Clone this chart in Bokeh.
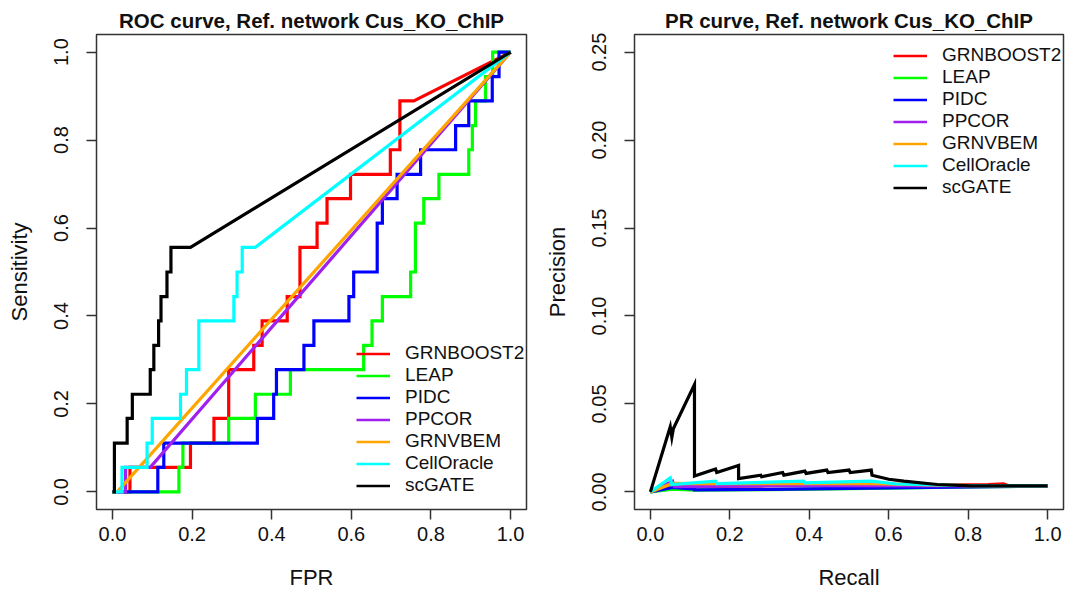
from bokeh.plotting import figure
from bokeh.models import Range1d, FixedTicker, PrintfTickFormatter, Legend, LegendItem
from bokeh.layouts import row
from bokeh.embed import file_html
from bokeh.resources import INLINE

methods = ["GRNBOOST2", "LEAP", "PIDC", "PPCOR", "GRNVBEM", "CellOracle", "scGATE"]
colors = ["#FF0000", "#00FF00", "#0000FF", "#A020F0", "#FFA500", "#00FFFF", "#000000"]

# ---------- ROC data (FPR, TPR) ----------
roc_grnboost2_fpr = [0, 0.044, 0.044, 0.196, 0.196, 0.255, 0.255, 0.292, 0.292, 0.355, 0.355, 0.376, 0.376, 0.439, 0.439, 0.471, 0.471, 0.514, 0.514, 0.539, 0.539, 0.598, 0.598, 0.698, 0.698, 0.722, 0.722, 0.757, 1.0]
roc_grnboost2_tpr = [0, 0, 0.056, 0.056, 0.111, 0.111, 0.167, 0.167, 0.278, 0.278, 0.333, 0.333, 0.389, 0.389, 0.444, 0.444, 0.556, 0.556, 0.611, 0.611, 0.667, 0.667, 0.722, 0.722, 0.778, 0.778, 0.889, 0.889, 1.0]

roc_leap_fpr = [0, 0.167, 0.167, 0.177, 0.177, 0.292, 0.292, 0.359, 0.359, 0.447, 0.447, 0.631, 0.631, 0.652, 0.652, 0.678, 0.678, 0.749, 0.749, 0.761, 0.761, 0.782, 0.782, 0.82, 0.82, 0.895, 0.895, 0.904, 0.904, 0.912, 0.912, 0.937, 0.937, 0.955, 0.955, 1.0]
roc_leap_tpr = [0, 0, 0.056, 0.056, 0.111, 0.111, 0.167, 0.167, 0.222, 0.222, 0.278, 0.278, 0.333, 0.333, 0.389, 0.389, 0.444, 0.444, 0.5, 0.5, 0.611, 0.611, 0.667, 0.667, 0.722, 0.722, 0.778, 0.778, 0.833, 0.833, 0.889, 0.889, 0.944, 0.944, 1.0, 1.0]

roc_pidc_fpr = [0, 0.114, 0.114, 0.129, 0.129, 0.364, 0.364, 0.405, 0.405, 0.412, 0.412, 0.481, 0.481, 0.506, 0.506, 0.594, 0.594, 0.606, 0.606, 0.665, 0.665, 0.678, 0.678, 0.715, 0.715, 0.774, 0.774, 0.862, 0.862, 0.895, 0.895, 0.954, 0.954, 0.971, 0.971, 1.0]
roc_pidc_tpr = [0, 0, 0.056, 0.056, 0.111, 0.111, 0.167, 0.167, 0.222, 0.222, 0.278, 0.278, 0.333, 0.333, 0.389, 0.389, 0.444, 0.444, 0.5, 0.5, 0.611, 0.611, 0.667, 0.667, 0.722, 0.722, 0.778, 0.778, 0.833, 0.833, 0.889, 0.889, 0.944, 0.944, 1.0, 1.0]

roc_ppcor_fpr = [0, 0.033, 0.033, 0.095, 1.0]
roc_ppcor_tpr = [0, 0, 0.056, 0.056, 1.0]

roc_grnvbem_fpr = [0, 0.012, 1.0]
roc_grnvbem_tpr = [0, 0, 1.0]

roc_celloracle_fpr = [0, 0.024, 0.024, 0.087, 0.087, 0.1, 0.1, 0.171, 0.171, 0.186, 0.186, 0.217, 0.217, 0.305, 0.305, 0.313, 0.313, 0.326, 0.326, 0.359, 1.0]
roc_celloracle_tpr = [0, 0, 0.056, 0.056, 0.111, 0.111, 0.167, 0.167, 0.222, 0.222, 0.278, 0.278, 0.389, 0.389, 0.444, 0.444, 0.5, 0.5, 0.556, 0.556, 1.0]

roc_scgate_fpr = [0, 0.005, 0.005, 0.037, 0.037, 0.05, 0.05, 0.095, 0.095, 0.104, 0.104, 0.116, 0.116, 0.122, 0.122, 0.137, 0.137, 0.147, 0.147, 0.196, 1.0]
roc_scgate_tpr = [0, 0, 0.111, 0.111, 0.167, 0.167, 0.222, 0.222, 0.278, 0.278, 0.333, 0.333, 0.389, 0.389, 0.444, 0.444, 0.5, 0.5, 0.556, 0.556, 1.0]

# ---------- PR data (Recall, Precision) ----------
pr_grnboost2_rec = [0, 0.056, 0.111, 0.3, 0.5, 0.7, 0.85, 0.889, 0.9, 1.0]
pr_grnboost2_prec = [0, 0.0045, 0.003, 0.0035, 0.004, 0.0038, 0.0042, 0.0046, 0.0036, 0.0034]

pr_leap_rec = [0, 0.056, 0.111, 0.3, 0.6, 0.8, 1.0]
pr_leap_prec = [0, 0.0015, 0.001, 0.0013, 0.0022, 0.0028, 0.0034]

pr_pidc_rec = [0, 0.056, 0.111, 0.111, 0.3, 0.5, 0.7, 1.0]
pr_pidc_prec = [0, 0.0025, 0.0015, 0.0012, 0.0014, 0.002, 0.0026, 0.0034]

pr_ppcor_rec = [0, 0.056, 0.06, 0.3, 1.0]
pr_ppcor_prec = [0, 0.006, 0.003, 0.0035, 0.0034]

pr_grnvbem_rec = [0, 0.056, 0.167, 0.389, 0.556, 0.8, 1.0]
pr_grnvbem_prec = [0, 0.0048, 0.0047, 0.0047, 0.0047, 0.0036, 0.0034]

pr_celloracle_rec = [0, 0.05, 0.054, 0.164, 0.167, 0.386, 0.389, 0.556, 0.62, 0.8, 1.0]
pr_celloracle_prec = [0, 0.008, 0.0042, 0.0061, 0.0047, 0.0061, 0.0051, 0.0061, 0.0045, 0.0036, 0.0034]

pr_scgate_rec = [0, 0.05, 0.054, 0.058, 0.111, 0.111, 0.164, 0.167, 0.222, 0.222, 0.278, 0.28, 0.333, 0.336, 0.389, 0.392, 0.444, 0.447, 0.5, 0.503, 0.556, 0.558, 0.6, 0.638, 0.722, 0.806, 1.0]
pr_scgate_prec = [0, 0.037, 0.031, 0.036, 0.061, 0.009, 0.013, 0.011, 0.015, 0.0076, 0.0095, 0.0086, 0.011, 0.0095, 0.0118, 0.0105, 0.0124, 0.011, 0.0124, 0.011, 0.0124, 0.0095, 0.0072, 0.0061, 0.0042, 0.0034, 0.0034]

roc_x = [roc_grnboost2_fpr, roc_leap_fpr, roc_pidc_fpr, roc_ppcor_fpr, roc_grnvbem_fpr, roc_celloracle_fpr, roc_scgate_fpr]
roc_y = [roc_grnboost2_tpr, roc_leap_tpr, roc_pidc_tpr, roc_ppcor_tpr, roc_grnvbem_tpr, roc_celloracle_tpr, roc_scgate_tpr]
pr_x = [pr_grnboost2_rec, pr_leap_rec, pr_pidc_rec, pr_ppcor_rec, pr_grnvbem_rec, pr_celloracle_rec, pr_scgate_rec]
pr_y = [pr_grnboost2_prec, pr_leap_prec, pr_pidc_prec, pr_ppcor_prec, pr_grnvbem_prec, pr_celloracle_prec, pr_scgate_prec]

FONT = "Liberation Sans"


def make_panel(title, xlab, ylab, yr, yticks, yfmt, xs, ys, width, bl, br, leg_loc):
    p = figure(width=width, height=593, output_backend="svg", toolbar_location=None,
               x_range=Range1d(-0.04, 1.04), y_range=yr,
               min_border_left=bl, min_border_right=br, min_border_top=34, min_border_bottom=84)
    p.grid.visible = False
    p.outline_line_color = "#333333"
    p.outline_line_width = 1.5
    p.title.text = title
    p.title.align = "center"
    p.title.text_font = FONT
    p.title.text_font_style = "bold"
    p.title.text_font_size = "20.5px"
    p.title.text_color = "#111111"
    p.title.standoff = 6
    p.xaxis.axis_label = xlab
    p.yaxis.axis_label = ylab
    p.xaxis.ticker = FixedTicker(ticks=[0, 0.2, 0.4, 0.6, 0.8, 1.0])
    p.yaxis.ticker = FixedTicker(ticks=yticks)
    p.xaxis.formatter = PrintfTickFormatter(format="%.1f")
    p.yaxis.formatter = PrintfTickFormatter(format=yfmt)
    p.yaxis.major_label_orientation = "vertical"
    for ax in (p.xaxis[0], p.yaxis[0]):
        ax.axis_line_color = None
        ax.major_tick_in = 0
        ax.major_tick_out = 10
        ax.major_tick_line_color = "#333333"
        ax.major_tick_line_width = 1.5
        ax.minor_tick_line_color = None
        ax.major_label_text_font = FONT
        ax.major_label_text_font_size = "20px"
        ax.major_label_text_color = "#111111"
        ax.axis_label_text_font = FONT
        ax.axis_label_text_font_size = "22px"
        ax.axis_label_text_font_style = "normal"
        ax.axis_label_text_color = "#111111"
    p.xaxis.major_label_standoff = 7
    p.xaxis.axis_label_standoff = 21
    p.yaxis.major_label_standoff = 18
    p.yaxis.axis_label_standoff = 20

    items = []
    for name, col, x, y in zip(methods, colors, xs, ys):
        p.line(x, y, line_color=col, line_width=3.2, line_join="miter")
        dummy = p.line([-5, -4], [-5, -5], line_color=col, line_width=2.5)
        items.append(LegendItem(label=name, renderers=[dummy]))
    leg = Legend(items=items, location=leg_loc, padding=0, margin=0, spacing=-1,
                 glyph_width=34, glyph_height=21, label_height=21, label_standoff=15,
                 label_text_font=FONT, label_text_font_size="19px", label_text_color="#111111",
                 background_fill_alpha=0, border_line_color=None)
    p.add_layout(leg)
    return p


p1 = make_panel("ROC curve, Ref. network Cus_KO_ChIP", "FPR", "Sensitivity",
                Range1d(-0.04, 1.04), [0, 0.2, 0.4, 0.6, 0.8, 1.0], "%.1f",
                roc_x, roc_y, 532, 96, 6, (260, 13))
p2 = make_panel("PR curve, Ref. network Cus_KO_ChIP", "Recall", "Precision",
                Range1d(-0.01, 0.26), [0, 0.05, 0.10, 0.15, 0.20, 0.25], "%.2f",
                pr_x, pr_y, 533, 102, 2, (259, 311))

layout = row(p1, p2)
open("out.html", "w").write(file_html(layout, INLINE))
